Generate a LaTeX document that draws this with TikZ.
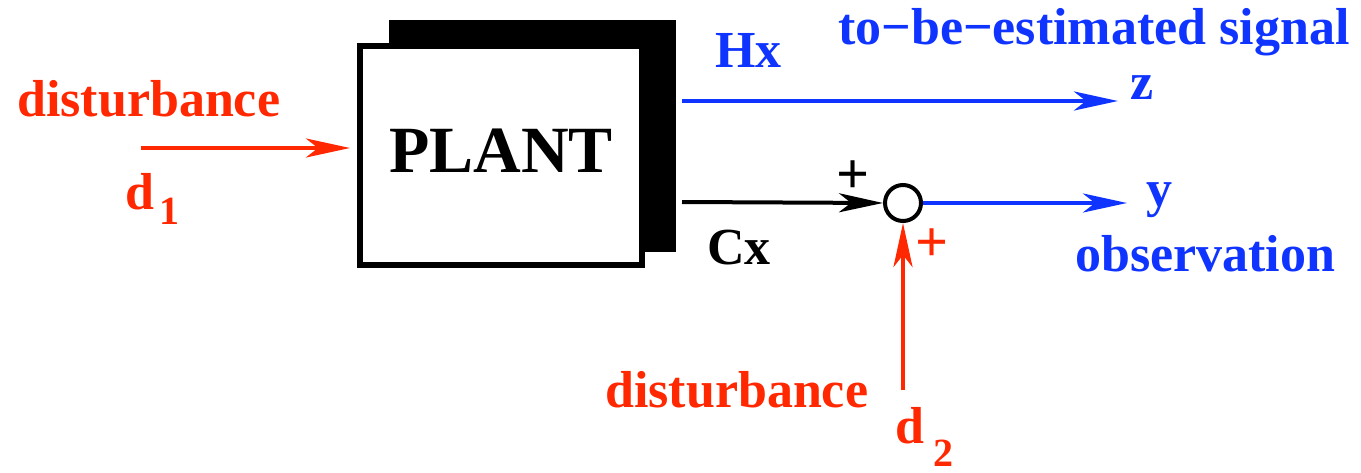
\documentclass[tikz,border=0pt]{standalone}
\usepackage{fontspec}
\setmainfont{Liberation Serif}
\usetikzlibrary{arrows.meta}
\definecolor{dred}{RGB}{255,40,0}
\definecolor{sblue}{RGB}{16,52,255}
\begin{document}
\begin{tikzpicture}[x=1pt,y=-1pt,
  lbl/.style={font=\fontsize{52}{60}\selectfont\bfseries, inner sep=0pt, anchor=base west},
  sublbl/.style={font=\fontsize{40}{48}\selectfont\bfseries, inner sep=0pt, anchor=base west},
  plusl/.style={font=\fontsize{58}{64}\selectfont\bfseries, inner sep=0pt, anchor=center},
  arr/.style={-{Stealth[length=44pt,width=19pt,inset=12pt]}},
  ]
\useasboundingbox (0,0) rectangle (1361,473);
% plant
\node[fill=black, draw=none, minimum width=287pt, minimum height=232pt, inner sep=0pt] (shadow) at (532.5,136) {};
\node[draw=black, fill=white, line width=6pt, minimum width=282pt, minimum height=219pt, inner sep=0pt] (plant) at (501,155.5) {};
\node[font=\fontsize{66}{70}\selectfont\bfseries, inner sep=0pt, anchor=base] (plantlabel) at (501,173) {PLANT};
% summing junction
\node[circle, draw=black, line width=4pt, minimum size=36pt, inner sep=0pt] (sum) at (903,203) {};
% free ends
\coordinate (d1s) at (141,148);
\coordinate (d1e) at (350,148);
\coordinate (zs) at (682,101);
\coordinate (ze) at (1118,101);
\coordinate (cxs) at (682,202);
\coordinate (ye) at (1127,203);
\coordinate (d2s) at (903,390);
% connectors
\draw[arr, dred, line width=3.5pt] (d1s) -- (d1e);
\draw[arr, sblue, line width=4.5pt] (zs) -- (ze);
\draw[arr, black, line width=4pt] (cxs) -- (sum.west);
\draw[arr, sblue, line width=4pt] (sum.east) -- (ye);
\draw[arr, dred, line width=4.5pt] (d2s) -- (sum.south);
% labels
\node[lbl, dred] (dist1) at (17,117) {disturbance};
\node[lbl, dred] (d1d) at (125,210) {d};
\node[sublbl, dred] (d1n) at (159,225) {1};
\node[lbl, sblue] (hx) at (715,68) {Hx};
\node[lbl, sblue] (tbe) at (838,45) {to−be−estimated signal};
\node[lbl, sblue] (zl) at (1130,100) {z};
\node[plusl, black] (plus1) at (853,177) {+};
\node[lbl, black] (cx) at (707,265) {Cx};
\node[plusl, dred] (plus2) at (932,245) {+};
\node[lbl, sblue] (yl) at (1146,207) {y};
\node[lbl, sblue] (obs) at (1075,272) {observation};
\node[lbl, dred] (dist2) at (605,407) {disturbance};
\node[lbl, dred] (d2d) at (895,443) {d};
\node[sublbl, dred] (d2n) at (933,466) {2};
\end{tikzpicture}
\end{document}
